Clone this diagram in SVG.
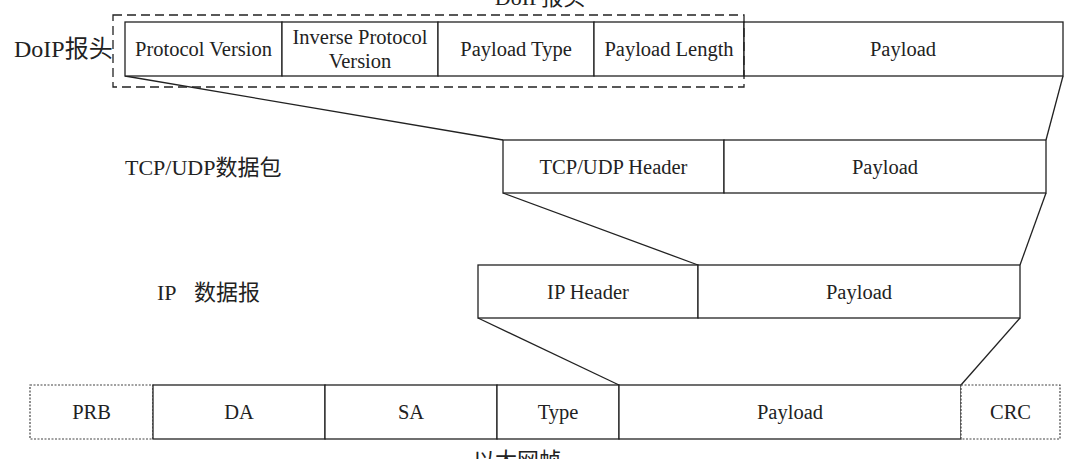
<svg xmlns="http://www.w3.org/2000/svg" width="1080" height="459" viewBox="0 0 1080 459">
<style>
.box{fill:#fff;stroke:#222;stroke-width:1.3}
.dot{fill:#fff;stroke:#444;stroke-width:1.2;stroke-dasharray:2 1.5}
.dash{fill:none;stroke:#222;stroke-width:1.3;stroke-dasharray:9 5}
.t{font-family:"Liberation Serif","Noto Sans CJK SC",serif;font-size:20.5px;fill:#222;text-anchor:middle;dominant-baseline:central}
.lab{font-family:"Liberation Serif","Noto Sans CJK SC",serif;font-size:22px;fill:#222}
.ln{stroke:#222;stroke-width:1.3;fill:none}
</style>
<rect width="1080" height="459" fill="#fff"/>
<g id="connectors">
<line class="ln" x1="125" y1="76" x2="503" y2="140"/>
<line class="ln" x1="1063" y1="76" x2="1046" y2="140"/>
<line class="ln" x1="503" y1="193" x2="698" y2="265"/>
<line class="ln" x1="1046" y1="193" x2="1020" y2="265"/>
<line class="ln" x1="478" y1="318" x2="619" y2="385"/>
<line class="ln" x1="1020" y1="318" x2="961" y2="385"/>
</g>
<g id="doip-title"><text class="lab" x="540" y="5" text-anchor="middle">DoIP报头</text></g>
<g id="doip-label"><text class="lab" x="14" y="57" style="font-size:24px">DoIP报头</text></g>
<g id="doip">
<rect class="box" x="125" y="22" width="157" height="54"/>
<text class="t" x="203.5" y="49">Protocol Version</text>
<rect class="box" x="282" y="22" width="156" height="54"/>
<text class="t" x="360" y="37">Inverse Protocol</text>
<text class="t" x="360" y="61">Version</text>
<rect class="box" x="438" y="22" width="156" height="54"/>
<text class="t" x="516" y="49">Payload Type</text>
<rect class="box" x="594" y="22" width="150" height="54"/>
<text class="t" x="669" y="49">Payload Length</text>
<rect class="box" x="744" y="22" width="319" height="54"/>
<text class="t" x="903" y="49">Payload</text>
</g>
<g id="doip-header-frame"><rect class="dash" x="113" y="15" width="631" height="72"/></g>
<g id="tcp-label"><text class="lab" x="125" y="175">TCP/UDP数据包</text></g>
<g id="tcp">
<rect class="box" x="503" y="140" width="221" height="53"/>
<text class="t" x="613.5" y="166.5">TCP/UDP Header</text>
<rect class="box" x="724" y="140" width="322" height="53"/>
<text class="t" x="885" y="166.5">Payload</text>
</g>
<g id="ip-label"><text class="lab" x="157" y="300">IP<tspan x="194">数据报</tspan></text></g>
<g id="ip">
<rect class="box" x="478" y="265" width="220" height="53"/>
<text class="t" x="588" y="291.5">IP Header</text>
<rect class="box" x="698" y="265" width="322" height="53"/>
<text class="t" x="859" y="291.5">Payload</text>
</g>
<g id="eth">
<rect class="dot" x="30" y="385" width="123" height="54"/>
<text class="t" x="91.5" y="412">PRB</text>
<rect class="box" x="153" y="385" width="172" height="54"/>
<text class="t" x="239" y="412">DA</text>
<rect class="box" x="325" y="385" width="172" height="54"/>
<text class="t" x="411" y="412">SA</text>
<rect class="box" x="497" y="385" width="122" height="54"/>
<text class="t" x="558" y="412">Type</text>
<rect class="box" x="619" y="385" width="342" height="54"/>
<text class="t" x="790" y="412">Payload</text>
<rect class="dot" x="961" y="385" width="99" height="54"/>
<text class="t" x="1010.5" y="412">CRC</text>
</g>
<g id="eth-label"><text class="lab" x="517" y="468" text-anchor="middle">以太网帧</text></g>
</svg>
